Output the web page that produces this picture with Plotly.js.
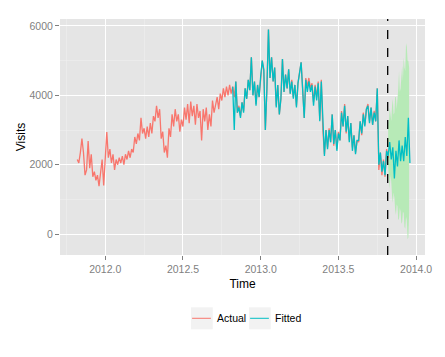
<!DOCTYPE html>
<html>
<head>
<meta charset="utf-8">
<script src="https://cdn.plot.ly/plotly-3.0.1.min.js"></script>
<style>html,body{margin:0;padding:0;background:#fff;}#chart{width:445px;height:357px;}</style>
</head>
<body>
<div id="chart"></div>
<script>
// Regular time series (frequency 100 per year)
const step = 0.01;
const ribbonStep = 0.005;
const actualStart = 2011.82;
const fittedStart = 2012.82;
const ribbonStart = 2013.82;
const forecastStart = 2013.817;

const actualVisits = [
  2150, 2050, 2350, 2750, 2350, 1700, 1850, 2680, 1900, 2300,
  1650, 1800, 1550, 1700, 1380, 1750, 2150, 1400, 2250, 2940,
  2200, 2450, 2050, 2300, 1850, 2150, 2000, 2200, 2050, 2250,
  2000, 2300, 2150, 2400, 2200, 2450, 2350, 2800, 2600, 2900,
  2700, 3350, 2900, 3050, 2750, 3100, 2800, 3200, 2900, 3400,
  3250, 3700, 3350, 3600, 2750, 2950, 2350, 2550, 2200, 3050,
  2800, 3450, 3100, 3600, 3250, 3450, 2950, 3300, 3100, 3650,
  3300, 3750, 3200, 3820, 3400, 3700, 3150, 3750, 3350, 3550,
  2700, 3600, 3250, 3650, 3000, 3450, 3100, 3850, 3500, 3700,
  3950, 3600, 4050, 3850, 4200, 3950, 4250, 4000, 4300, 4050,
  4250, 3950, 4400, 3500, 3700, 3400, 3800, 3550, 4200, 3900,
  4450, 4150, 5100, 4000, 4400, 3750, 4300, 3950, 4500, 5000,
  4700, 3000, 4200, 5900, 4500, 5100, 4400, 4800, 3700, 4300,
  3450, 3900, 5050, 4100, 4600, 4200, 4750, 4050, 4450, 3950,
  4300, 3700, 4350, 4650, 4950, 4200, 3350, 4500, 4250, 4500,
  4200, 4350, 3800, 4300, 3950, 4400, 3300, 4450, 3000, 2300,
  3000, 2500, 3050, 2650, 3450, 2550, 3000, 2450, 2950, 2700,
  3550, 3100, 3750, 2900, 3400, 2700, 3200, 2500, 2850, 2350,
  2700, 2650, 3250, 2850, 3500, 3150, 3600, 3750, 3250, 3650,
  3150, 3550, 3250, 4200, 1850, 2350, 1700, 2150, 1650, 2450,
  2200
];

const fittedVisits = [
  4250, 3000, 4400, 3500, 3650, 3350, 3800, 3500, 4200, 3900,
  4450, 4150, 5100, 4000, 4400, 3700, 4300, 3950, 4550, 5000,
  4750, 3000, 4200, 5900, 4500, 5100, 4400, 4800, 3650, 4300,
  3450, 3900, 5050, 4100, 4600, 4200, 4750, 4050, 4400, 3900,
  4300, 3650, 4350, 4650, 4950, 4150, 3350, 4450, 4100, 4400,
  4100, 4300, 3700, 4250, 3850, 4350, 3250, 4400, 3000, 2250,
  3000, 2450, 3000, 2650, 3450, 2600, 3000, 2400, 2900, 2700,
  3500, 3100, 3700, 2950, 3400, 2650, 3200, 2400, 2850, 2300,
  2700, 2700, 3250, 2900, 3450, 3100, 3600, 3700, 3200, 3650,
  3150, 3500, 3250, 4200, 2000, 2350, 1800, 2100, 1700, 2400,
  2250, 2650, 2150, 2500, 1600, 2400, 1950, 2700, 2100, 2550,
  2100, 2800, 2250, 3350, 2050
];

const upperBound = [3300, 3200, 3650, 3400, 3250, 3700, 3900, 3450, 3500, 3950, 3950, 3600, 3850, 4200,
                    4700, 4100, 4200, 4650, 4850, 4400, 5100, 4800, 4700, 5500, 5400, 5000, 5000, 4800];
const lowerBound = [1950, 1600, 1300, 1700, 1500, 1100, 900, 1200, 1050, 700, 550, 850, 800, 400,
                    450, 750, 650, 300, 350, 650, 600, 200, 150, 500, 400, -150, -100, 600];

const seriesNames = ['Actual', 'Fitted'];
const seriesColors = ['#F8766D', '#00BFC4'];
const xTicks = [2012.0, 2012.5, 2013.0, 2013.5, 2014.0];
const xTickLabels = ['2012.0', '2012.5', '2013.0', '2013.5', '2014.0'];
const yTicks = [0, 2000, 4000, 6000];
const yTickLabels = ['0', '2000', '4000', '6000'];

const times = (start, n, dt) => Array.from({length: n}, (_, i) => +(start + i * dt).toFixed(4));

const tA = times(actualStart, actualVisits.length, step);
const tF = times(fittedStart, fittedVisits.length, step);
const tR = times(ribbonStart, upperBound.length, ribbonStep);

const traces = [
  {x: tR, y: lowerBound, type: 'scatter', mode: 'lines', line: {width: 0, color: 'rgba(0,0,0,0)'}, showlegend: false, hoverinfo: 'skip'},
  {x: tR, y: upperBound, type: 'scatter', mode: 'lines', fill: 'tonexty', fillcolor: 'rgb(183,234,183)', line: {width: 0, color: 'rgba(0,0,0,0)'}, showlegend: false, hoverinfo: 'skip'},
  {x: tA, y: actualVisits, type: 'scatter', mode: 'lines', name: seriesNames[0], line: {color: seriesColors[0], width: 1.3}, showlegend: false},
  {x: tF, y: fittedVisits, type: 'scatter', mode: 'lines', name: seriesNames[1], line: {color: seriesColors[1], width: 1.3}, showlegend: false}
];

const ff = 'Liberation Sans, Arial, sans-serif';

// Legend (ggplot-style keys with grey key background), in paper coordinates
const keyBoxes = [[0.3589, 0.4184], [0.5178, 0.5773]];
const keyY = [-0.2216, -0.3148];
const legendShapes = [];
const legendNotes = [];
keyBoxes.forEach((b, i) => {
  legendShapes.push({type: 'rect', xref: 'paper', yref: 'paper', x0: b[0], x1: b[1], y0: keyY[1], y1: keyY[0], fillcolor: '#f2f2f2', line: {width: 0}, layer: 'above'});
  legendShapes.push({type: 'line', xref: 'paper', yref: 'paper', x0: b[0] + 0.003, x1: b[1] - 0.005, y0: (keyY[0] + keyY[1]) / 2, y1: (keyY[0] + keyY[1]) / 2, line: {color: seriesColors[i], width: 1}, layer: 'above'});
  legendNotes.push({xref: 'paper', yref: 'paper', x: b[1] + 0.006, y: (keyY[0] + keyY[1]) / 2, xanchor: 'left', yanchor: 'middle', text: seriesNames[i], showarrow: false, font: {family: ff, size: 10.5, color: '#000'}});
});

const layout = {
  width: 445, height: 357,
  margin: {l: 60, r: 20, t: 19, b: 102},
  paper_bgcolor: '#ffffff',
  plot_bgcolor: '#e5e5e5',
  font: {family: ff, size: 10, color: '#000'},
  xaxis: {
    range: [2011.709, 2014.057],
    tickvals: xTicks, ticktext: xTickLabels,
    showgrid: true, gridcolor: '#ffffff', gridwidth: 1,
    minor: {dtick: 0.25, tick0: 2011.75, showgrid: true, gridcolor: '#f2f2f2', gridwidth: 0.5, ticks: ''},
    zeroline: false, showline: false,
    ticks: 'outside', ticklen: 4, tickcolor: '#7f7f7f', tickwidth: 1,
    tickfont: {family: ff, size: 10.5, color: '#7f7f7f'},
    title: {text: 'Time', font: {family: ff, size: 12, color: '#000'}, standoff: 6}
  },
  yaxis: {
    range: [-604, 6201],
    tickvals: yTicks, ticktext: yTickLabels,
    showgrid: true, gridcolor: '#ffffff', gridwidth: 1,
    minor: {dtick: 1000, tick0: 0, showgrid: true, gridcolor: '#f2f2f2', gridwidth: 0.5, ticks: ''},
    zeroline: false, showline: false,
    ticks: 'outside', ticklen: 4, tickcolor: '#7f7f7f', tickwidth: 1,
    tickfont: {family: ff, size: 10.5, color: '#7f7f7f'},
    title: {text: 'Visits', font: {family: ff, size: 12, color: '#000'}, standoff: 1}
  },
  shapes: [
    {type: 'line', xref: 'x', yref: 'paper', x0: forecastStart, x1: forecastStart, y0: 0, y1: 1, line: {color: '#000', width: 1.3, dash: 'dash'}}
  ].concat(legendShapes),
  annotations: legendNotes,
  showlegend: false
};

Plotly.newPlot('chart', traces, layout, {staticPlot: true, displayModeBar: false});
</script>
</body>
</html>
